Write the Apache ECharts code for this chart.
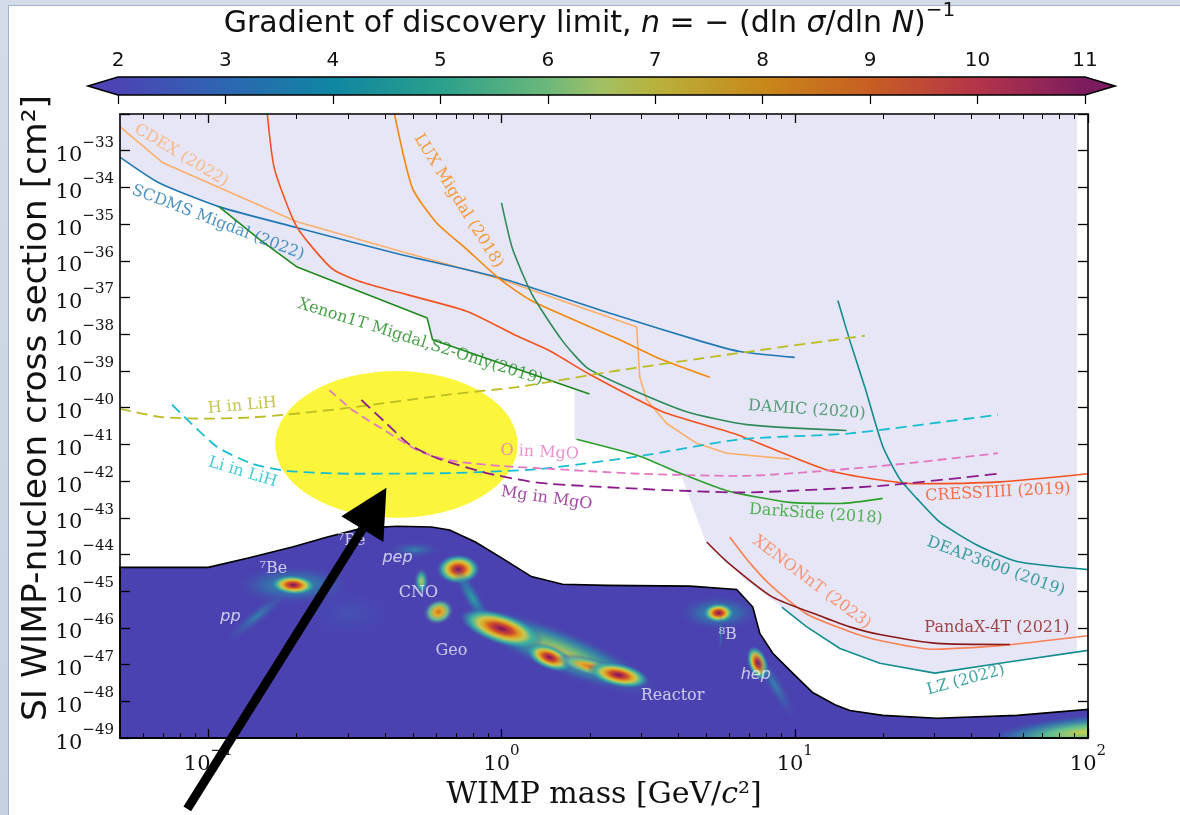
<!DOCTYPE html>
<html><head><meta charset="utf-8">
<script src="https://cdn.jsdelivr.net/npm/echarts@6/dist/echarts.min.js"></script>
<style>
html,body{margin:0;padding:0;width:1180px;height:815px;overflow:hidden;background:linear-gradient(180deg,#d3dce8,#c6d2e1);}
#panel{position:absolute;left:8px;top:5px;width:1172px;height:810px;background:#fff;border-left:1px solid #9fb2c8;border-top:1px solid #9fb2c8;}
#chart{position:absolute;left:0;top:0;width:1180px;height:815px;}
</style></head>
<body><div id="panel"></div><div id="chart"></div>
<script>
// ================= DATA (mass in GeV/c^2, cross sections as log10 of cm^2) =================
const xMajorTicks = [0.1, 1, 10, 100];
const xMinorTicks = [0.06,0.07,0.08,0.09,0.2,0.3,0.4,0.5,0.6,0.7,0.8,0.9,2,3,4,5,6,7,8,9,20,30,40,50,60,70,80,90];
const yExponentMin = -49, yExponentMax = -32, yExponentLastLabel = -33;
const colorbarTicks = [2,3,4,5,6,7,8,9,10,11];

const cdexMass = [0.0501,0.0697,0.1995,0.449,0.984,2.53,2.89,2.96,3.13,3.66,4.63,5.86,9.6];
const cdexLogSigma = [-32.35,-33.32,-34.93,-35.73,-36.49,-37.64,-37.80,-39.17,-39.79,-40.43,-40.97,-41.24,-41.40];

const scdmsMass = [0.0501,0.0681,0.1091,0.1995,0.449,0.984,2.53,4.74,6.49,10.0];
const scdmsLogSigma = [-33.18,-33.88,-34.53,-35.09,-35.82,-36.46,-37.51,-38.18,-38.47,-38.63];

const xenon1tMass = [0.109,0.149,0.200,0.558,0.582,1.995];
const xenon1tLogSigma = [-34.53,-35.41,-36.16,-37.56,-38.15,-39.63];

const cresstMass = [0.159,0.168,0.200,0.265,0.346,0.760,1.125,1.459,1.995,3.54,6.34,13.15,26.06,50.1,100];
const cresstLogSigma = [-32.0,-33.48,-35.06,-36.22,-36.62,-37.37,-38.04,-38.45,-39.09,-40.11,-40.73,-41.72,-42.07,-42.02,-41.80];

const luxMass = [0.4315,0.4966,0.600,0.760,0.984,1.276,2.53,3.38,5.13];
const luxLogSigma = [-32.0,-34.02,-34.96,-35.68,-36.49,-37.10,-38.15,-38.63,-39.17];

const damicMass = [1.0,1.091,1.276,1.614,1.950,2.53,4.276,6.855,15.03];
const damicLogSigma = [-34.42,-35.68,-36.94,-38.18,-38.90,-39.36,-40.11,-40.46,-40.62];

const darksideMass = [1.803,2.958,4.055,5.861,9.616,14.26,19.95];
const darksideLogSigma = [-40.86,-41.32,-41.78,-42.26,-42.58,-42.61,-42.47];

const deapMass = [14.03,15.42,17.34,19.95,22.80,26.06,31.26,41.78,57.28,100];
const deapLogSigma = [-37.08,-38.18,-39.44,-41.05,-41.94,-42.47,-43.12,-43.74,-44.19,-44.41];

const xenonntMass = [6.0,7.015,8.414,10.99,15.42,19.50,29.58,50.1,100];
const xenonntLogSigma = [-43.52,-44.22,-44.89,-45.62,-46.10,-46.34,-46.58,-46.48,-46.21];

const pandaxMass = [5.01,5.86,8.41,12.47,15.42,19.50,30.55,54.2];
const pandaxLogSigma = [-43.66,-44.19,-45.16,-45.70,-45.97,-46.18,-46.42,-46.45];

const lzMass = [9.036,10.99,14.26,19.50,30.06,50.1,100];
const lzLogSigma = [-45.43,-45.97,-46.56,-46.96,-47.23,-46.96,-46.61];

const hLiHMass = [0.05,0.0681,0.0955,0.138,0.1845,0.303,0.681,1.125,2.53,7.015,17.34];
const hLiHLogSigma = [-40.03,-40.25,-40.30,-40.27,-40.19,-40.0,-39.63,-39.44,-38.98,-38.47,-38.04];

const liLiHMass = [0.0753,0.1064,0.1413,0.1845,0.3097,0.681,1.349,2.958,6.49,15.42,49.3];
const liLiHLogSigma = [-39.92,-41.05,-41.53,-41.72,-41.80,-41.78,-41.67,-41.32,-40.86,-40.70,-40.19];

const oMgOMass = [0.2588,0.3097,0.4055,0.5248,0.681,1.007,1.493,2.958,6.49,19.5,49.3];
const oMgOLogSigma = [-39.52,-40.06,-40.65,-41.19,-41.45,-41.59,-41.67,-41.80,-41.86,-41.59,-41.24];

const mgMgOMass = [0.3327,0.4055,0.4853,0.600,0.889,1.349,2.958,6.49,19.5,49.3];
const mgMgOLogSigma = [-39.79,-40.43,-41.0,-41.37,-41.78,-42.05,-42.21,-42.31,-42.13,-41.80];

// excluded region (lavender)
const excludedMass = [0.05,0.05,0.0681,0.1091,0.149,0.200,0.558,0.582,1.774,1.774,2.958,4.11,4.93,6.75,9.04,10.99,14.26,19.5,30.06,50.1,91.6,91.6];
const excludedLogSigma = [-32.0,-33.18,-33.88,-34.53,-35.41,-36.16,-37.56,-38.15,-39.49,-40.86,-41.32,-41.86,-43.60,-44.68,-45.43,-45.97,-46.56,-46.96,-47.23,-46.96,-46.64,-32.0];

// neutrino fog boundary
const fogMass = [0.05,0.1,0.138,0.195,0.2547,0.3357,0.4416,0.5768,0.6653,0.8147,1.0,1.265,1.614,2.280,4.385,6.339,7.194,7.603,8.414,9.840,11.51,13.71,15.42,19.95,30.55,57.28,100,100,0.05];
const fogLogSigma = [-44.35,-44.35,-44.09,-43.79,-43.52,-43.28,-43.23,-43.25,-43.33,-43.66,-44.09,-44.60,-44.81,-44.84,-44.86,-44.95,-45.43,-46.15,-46.69,-47.23,-47.76,-48.09,-48.25,-48.38,-48.46,-48.38,-48.22,-49,-49];

// hot spots of the discovery-limit gradient inside the fog
const spotMass = [0.195,0.195,0.713,0.533,0.610,0.796,1.578,1.0,1.459,2.0,2.506,5.50,5.50,5.59,7.48,8.55,0.147,0.303,0.505,97.7];
const spotLogSigma = [-44.83,-44.83,-44.40,-44.73,-45.56,-45.18,-46.63,-46.02,-46.80,-47.05,-47.28,-45.59,-45.59,-46.15,-46.96,-47.55,-45.67,-45.61,-43.87,-48.84];

// highlighted ellipse and arrow annotation
const ellipseCenter = [0.438, -41.0];
const ellipseRightMass = 1.135;
const ellipseTopLogSigma = -39.0;
const arrowTip = [0.405, -42.18];
const arrowHeadA = [0.2844, -42.96];
const arrowHeadB = [0.3956, -43.66];
const arrowTail = [0.0848, -50.93];

// labels
const curveLabelTexts = ['CDEX (2022)','SCDMS Migdal (2022)','Xenon1T Migdal,S2-Only(2019)','LUX Migdal (2018)','H in LiH','Li in LiH','O in MgO','Mg in MgO','DAMIC (2020)','DarkSide (2018)','CRESSTIII (2019)','DEAP3600 (2019)','XENONnT (2023)','PandaX-4T (2021)','LZ (2022)'];
const curveLabelMass = [0.0809,0.108,0.529,0.713,0.1306,0.1310,1.349,1.425,10.99,11.8,49.3,48.5,11.43,48.9,38.3];
const curveLabelLogSigma = [-33.13,-34.96,-38.21,-34.37,-39.95,-41.76,-41.22,-42.47,-40.06,-42.90,-42.31,-44.33,-44.76,-45.99,-47.42];

const fogLabelTexts = ['⁷Be','pp','⁷Be','pep','CNO','Geo','Reactor','⁸B','hep'];
const fogLabelMass = [0.1667,0.119,0.308,0.442,0.521,0.675,3.83,5.91,7.36];
const fogLabelLogSigma = [-44.40,-45.70,-43.62,-44.09,-45.03,-46.61,-47.85,-46.18,-47.28];

// ================= STYLES =================
const curveStyles = [
  {mass: cdexMass, logS: cdexLogSigma, color:'#fdae6b', smooth:0},
  {mass: scdmsMass, logS: scdmsLogSigma, color:'#1f77b4', smooth:0.2},
  {mass: xenon1tMass, logS: xenon1tLogSigma, color:'#1e8a1e', smooth:0},
  {mass: cresstMass, logS: cresstLogSigma, color:'#f4511e', smooth:0.2},
  {mass: luxMass, logS: luxLogSigma, color:'#f5870f', smooth:0.2},
  {mass: damicMass, logS: damicLogSigma, color:'#2e8b57', smooth:0.2},
  {mass: darksideMass, logS: darksideLogSigma, color:'#2ca02c', smooth:0.2},
  {mass: deapMass, logS: deapLogSigma, color:'#108c8c', smooth:0.2},
  {mass: xenonntMass, logS: xenonntLogSigma, color:'#fa8055', smooth:0.2},
  {mass: pandaxMass, logS: pandaxLogSigma, color:'#8b1a1a', smooth:0.2},
  {mass: lzMass, logS: lzLogSigma, color:'#138d8d', smooth:0},
  {mass: hLiHMass, logS: hLiHLogSigma, color:'#bcbd22', smooth:0.2, dash:[11,6]},
  {mass: liLiHMass, logS: liLiHLogSigma, color:'#17becf', smooth:0.2, dash:[11,6]},
  {mass: oMgOMass, logS: oMgOLogSigma, color:'#e377c2', smooth:0.2, dash:[9,5]},
  {mass: mgMgOMass, logS: mgMgOLogSigma, color:'#8b1a8b', smooth:0.2, dash:[12,6]}
];
const curveLabelColors = ['#fdae6b','#1f77b4','#1e8a1e','#f5870f','#b5b620','#17becf','#e377c2','#8b1a8b','#2e8b57','#2ca02c','#f4511e','#108c8c','#fa8055','#8b1a1a','#138d8d'];
const curveLabelRotate = [-31,-21,-17.5,-58,5,-17,-3,-8,-4,-4,3,-20,-37,0,15];
const fogLabelItalic = [false,true,false,true,false,false,false,false,true];

// spot shapes: [width px, height px, rotation deg, palette]
const spotShapes = [
  [120,40,0,'halo'],[46,20,-3,'hot'],[44,30,0,'hot'],[16,30,0,'mid'],[32,26,20,'warm'],
  [74,18,-60,'halo'],[220,46,-22,'halo2'],[88,32,-18,'hot'],[50,24,-22,'hot'],[70,18,-15,'warm'],[64,24,-12,'hot'],
  [84,36,0,'halo'],[32,20,0,'hot'],[5,40,0,'faint'],[20,36,20,'hot'],[18,90,30,'faint'],
  [90,18,39,'faint'],[110,60,0,'veryfaint'],[60,18,0,'faint'],[210,36,5,'glow']
];
const T = 'rgba(74,66,176,0)';
const palettes = {
  hot:[[0,'#6e1655'],[0.12,'#a82850'],[0.28,'#d0502a'],[0.42,'#e0a020'],[0.55,'#c8c850'],[0.72,'#3db3a0'],[0.88,'rgba(50,140,170,0.45)'],[1,T]],
  warm:[[0,'#d87020'],[0.3,'#e0b030'],[0.6,'#60bc98'],[1,T]],
  mid:[[0,'#c8c850'],[0.4,'#40b0a0'],[1,T]],
  halo:[[0,'rgba(40,170,160,0.9)'],[0.5,'rgba(40,140,170,0.5)'],[1,T]],
  halo2:[[0,'rgba(200,200,80,0.95)'],[0.3,'rgba(100,190,125,0.9)'],[0.6,'rgba(40,160,165,0.6)'],[1,T]],
  faint:[[0,'rgba(40,160,170,0.7)'],[1,T]],
  veryfaint:[[0,'rgba(60,110,190,0.35)'],[1,T]],
  glow:[[0,'#c8d050'],[0.35,'#60c090'],[0.7,'rgba(40,140,170,0.6)'],[1,T]]
};
const colorbarStops = [[2,'#4c44b4'],[3,'#2d66b2'],[4,'#0f86a2'],[5,'#2aa08c'],[6,'#6cb87a'],[6.5,'#a2c064'],[7,'#b8b23c'],[8,'#c8881a'],[9,'#c85e22'],[10,'#b4344a'],[11,'#7c1c5e']];

// ================= BUILD =================
const pairs = (m, l) => m.map((v, i) => [v, l[i]]);
const SERIF = 'DejaVu Serif';
const SANS = 'DejaVu Sans';

function expText(e) { return '{b|10}{s|' + (e < 0 ? '−' + (-e) : e) + '}'; }
const powRich = {
  b:{fontSize:21, fontFamily:SERIF, color:'#111', verticalAlign:'bottom', lineHeight:31},
  s:{fontSize:15, fontFamily:SERIF, color:'#111', verticalAlign:'top', lineHeight:31}
};

const series = [];

series.push({
  type:'custom', coordinateSystem:'cartesian2d', xAxisIndex:0, yAxisIndex:0, z:1, silent:true,
  data:[[1,-40]],
  renderItem:(p, api) => ({type:'polygon', shape:{points: excludedMass.map((m,i)=>api.coord([m,excludedLogSigma[i]]))}, style:{fill:'#e6e6f6'}})
});

series.push({
  type:'custom', coordinateSystem:'cartesian2d', xAxisIndex:0, yAxisIndex:0, z:2, silent:true,
  data:[[1,-40]],
  renderItem:(p, api) => {
    const pts = fogMass.map((m,i)=>api.coord([m,fogLogSigma[i]]));
    const spots = spotMass.map((m,i) => {
      const c = api.coord([m, spotLogSigma[i]]);
      const [w,h,rot,pal] = spotShapes[i];
      return {type:'circle', x:c[0], y:c[1], rotation: rot*Math.PI/180, scaleX: w/h, scaleY:1,
        shape:{cx:0, cy:0, r:h/2},
        style:{fill:{type:'radial', x:0.5, y:0.5, r:0.5, colorStops: palettes[pal].map(s=>({offset:s[0], color:s[1]}))}}};
    });
    return {type:'group', children:[
      {type:'polygon', shape:{points:pts}, style:{fill:'#4a42b0'}},
      {type:'group', children:spots, clipPath:{type:'polygon', shape:{points:pts}}},
      {type:'polygon', shape:{points:pts}, style:{fill:'none', stroke:'#000', lineWidth:1.6}}
    ]};
  }
});

series.push({
  type:'custom', coordinateSystem:'cartesian2d', xAxisIndex:0, yAxisIndex:0, z:3, silent:true,
  data:[[1,-40]],
  renderItem:(p, api) => {
    const c = api.coord(ellipseCenter);
    const r = api.coord([ellipseRightMass, ellipseCenter[1]]);
    const t = api.coord([ellipseCenter[0], ellipseTopLogSigma]);
    const rx = r[0]-c[0], ry = c[1]-t[1];
    return {type:'circle', x:c[0], y:c[1], scaleX: rx/ry, scaleY:1, shape:{cx:0,cy:0,r:ry}, style:{fill:'#fbf63c'}};
  }
});

curveStyles.forEach(s => {
  series.push({
    type:'line', xAxisIndex:0, yAxisIndex:0, z:4, silent:true, symbol:'none', showSymbol:false,
    smooth:s.smooth, clip:true,
    data: pairs(s.mass, s.logS),
    lineStyle:{color:s.color, width: s.dash ? 1.8 : 1.6, type: s.dash || 'solid'}
  });
});

series.push({
  type:'scatter', xAxisIndex:0, yAxisIndex:0, z:6, silent:true, symbolSize:1,
  itemStyle:{color:'rgba(0,0,0,0)'},
  data: curveLabelTexts.map((t,i)=>({
    value:[curveLabelMass[i], curveLabelLogSigma[i]],
    label:{show:true, position:'inside', formatter:t, rotate:curveLabelRotate[i], color:curveLabelColors[i], fontFamily:SERIF, fontSize:16}
  }))
});

series.push({
  type:'scatter', xAxisIndex:0, yAxisIndex:0, z:6, silent:true, symbolSize:1,
  itemStyle:{color:'rgba(0,0,0,0)'},
  data: fogLabelTexts.map((t,i)=>({
    value:[fogLabelMass[i], fogLabelLogSigma[i]],
    label:{show:true, position:'inside', formatter:t, color:'#ececfa',
      fontFamily: fogLabelItalic[i] ? SANS : SERIF, fontStyle: fogLabelItalic[i] ? 'italic' : 'normal', fontSize:16}
  }))
});

series.push({
  type:'custom', coordinateSystem:'cartesian2d', xAxisIndex:0, yAxisIndex:0, z:20, silent:true,
  data:[[1,-40]],
  renderItem:(p, api) => {
    const tip = api.coord(arrowTip), A = api.coord(arrowHeadA), B = api.coord(arrowHeadB), tail = api.coord(arrowTail);
    const mid = [(A[0]+B[0])/2, (A[1]+B[1])/2];
    return {type:'group', children:[
      {type:'line', shape:{x1:tail[0], y1:tail[1], x2:mid[0], y2:mid[1]}, style:{stroke:'#000', lineWidth:9}},
      {type:'polygon', shape:{points:[tip, A, B]}, style:{fill:'#000'}}
    ]};
  }
});

series.push({
  type:'custom', coordinateSystem:'cartesian2d', xAxisIndex:4, yAxisIndex:2, z:2, silent:true,
  data:[[5,0.5]],
  renderItem:(p, api) => {
    const tl = api.coord([colorbarTicks[0],1]), br = api.coord([colorbarTicks[colorbarTicks.length-1],0]);
    const x0 = tl[0], x1 = br[0], y0 = tl[1], y1 = br[1], ym = (y0+y1)/2, ext = 30;
    const grad = {type:'linear', x:x0, y:0, x2:x1, y2:0, global:true,
      colorStops: colorbarStops.map(s=>({offset:(s[0]-2)/9, color:s[1]}))};
    return {type:'group', children:[
      {type:'polygon', shape:{points:[[x0-ext,ym],[x0,y0],[x0,y1]]}, style:{fill:colorbarStops[0][1]}},
      {type:'polygon', shape:{points:[[x1+ext,ym],[x1,y0],[x1,y1]]}, style:{fill:colorbarStops[colorbarStops.length-1][1]}},
      {type:'rect', shape:{x:x0, y:y0, width:x1-x0, height:y1-y0}, style:{fill:grad}},
      {type:'polygon', shape:{points:[[x0-ext,ym],[x0,y0],[x1,y0],[x1+ext,ym],[x1,y1],[x0,y1]]}, style:{fill:'none', stroke:'#000', lineWidth:1.6}}
    ]};
  }
});

const axisLineStyle = {show:true, lineStyle:{color:'#000', width:1.6}};
const mainX = (pos, minor) => ({
  type:'log', logBase:10, gridIndex:0, min:0.05, max:100, position:pos, z:10,
  axisLine: minor ? {show:false} : axisLineStyle,
  axisTick:{show:true, inside:true, length: minor ? 5 : 9, customValues: minor ? xMinorTicks : xMajorTicks, lineStyle:{color:'#000', width: minor ? 1 : 1.3}},
  axisLabel:{show: pos==='bottom' && !minor, customValues:xMajorTicks, formatter:v=>expText(Math.round(Math.log10(v))), rich:powRich, margin:6},
  splitLine:{show:false}, minorTick:{show:false}
});
const mainY = (pos) => ({
  type:'value', gridIndex:0, min:yExponentMin, max:yExponentMax, interval:1, position:pos, z:10,
  axisLine:axisLineStyle,
  axisTick:{show:true, inside:true, length:10, lineStyle:{color:'#000', width:1.3}},
  axisLabel:{show: pos==='left', formatter:v => v > yExponentLastLabel ? '' : expText(v), rich:powRich, margin:6},
  splitLine:{show:false}
});

const option = {
  animation:false,
  backgroundColor:'transparent',
  textStyle:{fontFamily:SERIF},
  grid:[
    {left:120, top:114, width:968, height:632},
    {left:118, top:76, width:967, height:19}
  ],
  xAxis:[
    Object.assign(mainX('bottom', false), {
      name:'{n|WIMP mass [GeV/}{i|c}{n|²]}', nameLocation:'middle', nameGap:31,
      nameTextStyle:{rich:{n:{fontFamily:SERIF, fontSize:30, color:'#111'}, i:{fontFamily:SERIF, fontStyle:'italic', fontSize:30, color:'#111'}}}
    }),
    mainX('bottom', true),
    mainX('top', false),
    mainX('top', true),
    {type:'value', gridIndex:1, min:colorbarTicks[0], max:colorbarTicks[colorbarTicks.length-1], interval:1, position:'top', z:10,
     axisLine:{show:false},
     axisTick:{show:true, inside:true, length:9, lineStyle:{color:'#000', width:1.2}},
     axisLabel:{margin:6, fontFamily:SANS, fontSize:20, color:'#111'},
     splitLine:{show:false},
     name:'{n|Gradient of discovery limit, }{i|n}{n| = − (dln }{i|σ}{n|/dln }{i|N}{n|)}{s|−1}',
     nameLocation:'middle', nameGap:38,
     nameTextStyle:{padding:[0,24,0,0], rich:{
       n:{fontFamily:SANS, fontSize:30, color:'#111', verticalAlign:'bottom', lineHeight:38},
       i:{fontFamily:SANS, fontStyle:'italic', fontSize:30, color:'#111', verticalAlign:'bottom', lineHeight:38},
       s:{fontFamily:SANS, fontSize:20, color:'#111', verticalAlign:'top', lineHeight:38}}}
    }
  ],
  yAxis:[
    Object.assign(mainY('left'), {
      name:'SI WIMP-nucleon cross section [cm²]', nameLocation:'middle', nameGap:65, nameMoveOverlap:false,
      nameTextStyle:{fontFamily:SANS, fontSize:34.5, color:'#111', padding:[0,0,0,36]}
    }),
    mainY('right'),
    {type:'value', gridIndex:1, min:0, max:1, show:false}
  ],
  series: series
};

const chart = echarts.init(document.getElementById('chart'), null, {renderer:'canvas'});
chart.setOption(option);
</script>
</body></html>
